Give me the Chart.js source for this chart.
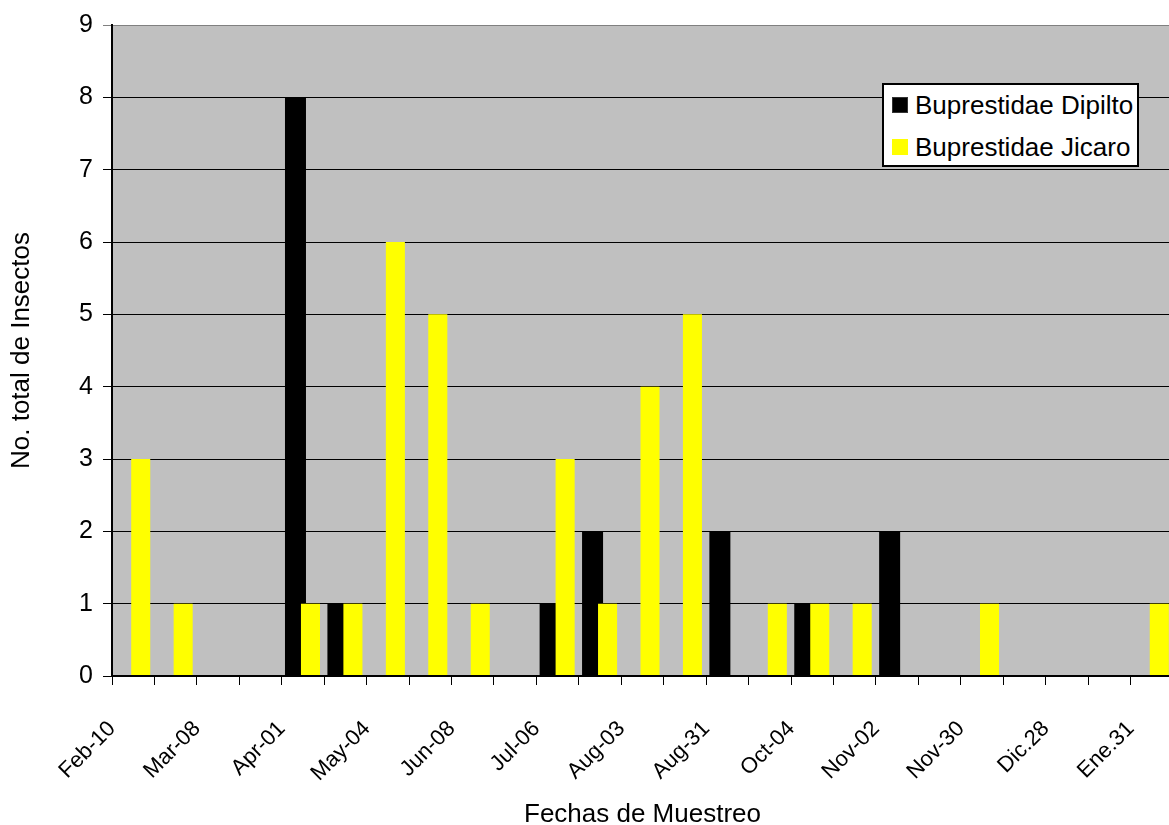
<!DOCTYPE html>
<html>
<head>
<meta charset="utf-8">
<script src="https://cdn.jsdelivr.net/npm/chart.js@4.4.1/dist/chart.umd.min.js"></script>
<style>
  html, body { margin: 0; padding: 0; background: #ffffff; overflow: hidden; width: 1169px; height: 825px; }
  #wrap { position: relative; width: 1180px; height: 840px; }
  canvas { position: absolute; left: 0; top: 0; }
  #legend { position: absolute; left: 882px; top: 83px; width: 257px; height: 84px; box-sizing: border-box;
            border: 2px solid #000; background: #fff; font-family: 'Liberation Sans', Arial, sans-serif; font-size: 26px; color: #000; }
  .row { position: absolute; left: 0; height: 40px; line-height: 40px; white-space: nowrap; }
  .sw { position: absolute; left: 8px; top: 12px; width: 16px; height: 16px; box-sizing: border-box; }
  .tx { position: absolute; left: 31px; top: 0; }
</style>
</head>
<body>
<div id="wrap">
  <canvas id="c" width="1180" height="840"></canvas>
  <div id="legend"></div>
</div>
<script>
// ---- data ----
const tickLabels = ['Feb-10', 'Mar-08', 'Apr-01', 'May-04', 'Jun-08', 'Jul-06', 'Aug-03', 'Aug-31', 'Oct-04', 'Nov-02', 'Nov-30', 'Dic.28', 'Ene.31'];
const dipilto = [0, 0, 0, 0, 8, 1, 0, 0, 0, 0, 1, 2, 0, 0, 2, 0, 1, 0, 2, 0, 0, 0, 0, 0, 0];
const jicaro  = [3, 1, 0, 0, 1, 1, 6, 5, 1, 0, 3, 1, 4, 5, 0, 1, 1, 1, 0, 0, 1, 0, 0, 0, 1];
const seriesNames = ['Buprestidae Dipilto', 'Buprestidae Jicaro'];
const seriesColors = ['#000000', '#FFFF00'];
const yTicks = [0, 1, 2, 3, 4, 5, 6, 7, 8, 9];
// one category every sampling date; only every second one carries a label
const categories = dipilto.map((_, i) => (i % 2 === 0 ? tickLabels[i / 2] : ''));

const FONT = "'Liberation Sans', Arial, sans-serif";
Chart.defaults.font.family = FONT;
Chart.defaults.color = '#000';

const plotBg = {
  id: 'plotBg',
  beforeDraw(chart) {
    const a = chart.chartArea, ctx = chart.ctx;
    ctx.save();
    ctx.fillStyle = '#C0C0C0';
    ctx.fillRect(a.left, a.top, a.right - a.left, a.bottom - a.top);
    ctx.restore();
  }
};

// draw the second series on top of the first (overlapping bars)
const lateDraw = {
  id: 'lateDraw',
  beforeDatasetDraw(chart, args) {
    if (args.index === 1 && !chart.$late) return false;
  },
  afterDatasetsDraw(chart) {
    const a = chart.chartArea, ctx = chart.ctx;
    chart.$late = true;
    ctx.save();
    ctx.beginPath();
    ctx.rect(a.left, a.top, a.right - a.left, a.bottom - a.top);
    ctx.clip();
    chart.getDatasetMeta(1).controller.draw();
    ctx.restore();
    chart.$late = false;
  }
};

const chart = new Chart(document.getElementById('c'), {
  type: 'bar',
  data: {
    labels: categories,
    datasets: [
      { label: seriesNames[0], data: dipilto, backgroundColor: seriesColors[0], borderWidth: 0,
        categoryPercentage: 0.707, barPercentage: 1.4 },
      { label: seriesNames[1], data: jicaro, backgroundColor: seriesColors[1], borderWidth: 0,
        categoryPercentage: 0.707, barPercentage: 1.27 }
    ]
  },
  options: {
    responsive: false,
    animation: false,
    devicePixelRatio: 1,
    layout: { padding: { top: 22, right: 7, bottom: 10, left: 0 } },
    plugins: { legend: { display: false }, tooltip: { enabled: false } },
    scales: {
      x: {
        offset: true,
        afterFit(s) { s.height = 154; s.paddingLeft = 0; s.paddingRight = 0; },
        grid: { offset: true, drawOnChartArea: false, drawTicks: true, tickLength: 9, color: '#000', lineWidth: 1 },
        border: { display: true, color: '#000', width: 2, z: 1 },
        ticks: { autoSkip: false, maxRotation: 45, minRotation: 45, padding: 31, labelOffset: -21,
                 font: { size: 22 }, color: '#000' },
        title: { display: true, text: 'Fechas de Muestreo', font: { size: 26 }, color: '#000', padding: { top: 0, bottom: 0 } }
      },
      y: {
        min: yTicks[0], max: yTicks[yTicks.length - 1],
        afterFit(s) { s.width = 112; },
        afterBuildTicks(s) { s.ticks = yTicks.map(v => ({ value: v })); },
        grid: { drawOnChartArea: true, drawTicks: true, tickLength: 9, lineWidth: 1,
                color: (ctx) => (ctx.tick && ctx.tick.value === yTicks[yTicks.length - 1] ? '#808080' : '#000') },
        border: { display: true, color: '#000', width: 2, z: 1 },
        ticks: { padding: 10, font: { size: 25 }, color: '#000' },
        title: { display: true, text: 'No. total de Insectos', font: { size: 26 }, color: '#000', padding: { top: 6, bottom: 0 } }
      }
    }
  },
  plugins: [plotBg, lateDraw]
});

// legend built from the chart's datasets
const leg = document.getElementById('legend');
chart.data.datasets.forEach((ds, i) => {
  const row = document.createElement('div');
  row.className = 'row';
  row.style.top = (i * 42.3) + 'px';
  const sw = document.createElement('span');
  sw.className = 'sw';
  sw.style.background = ds.backgroundColor;
  if (i === 0) sw.style.border = '1px solid #333';
  const tx = document.createElement('span');
  tx.className = 'tx';
  tx.textContent = ds.label;
  row.appendChild(sw);
  row.appendChild(tx);
  leg.appendChild(row);
});
</script>
</body>
</html>
